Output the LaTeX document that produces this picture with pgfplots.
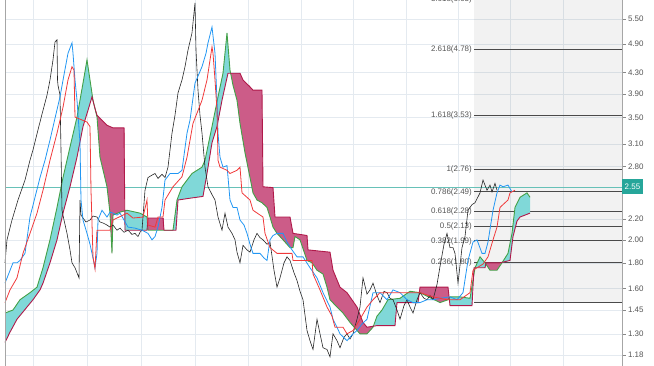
\documentclass[border=0pt]{standalone}
\usepackage{fontspec}
\setmainfont{Liberation Sans}
\usepackage{pgfplots}
\usepackage{pgfplotstable}
\pgfplotsset{compat=1.18}
\definecolor{cgreen}{HTML}{43A047}
\definecolor{cB}{HTML}{B0194A}
\definecolor{cblue}{HTML}{2196F3}
\definecolor{cred}{HTML}{F0393A}
\definecolor{cteal}{HTML}{80D8D8}
\definecolor{cpink}{HTML}{CC5C88}
\definecolor{gridc}{HTML}{E4EAF0}
\definecolor{pricec}{HTML}{26A69A}
\definecolor{fibc}{HTML}{4A4A4A}
\definecolor{txtc}{HTML}{555555}

\pgfplotstableread[row sep=\\]{
x y\\
5 1.43\\ 13 1.45\\ 20 1.52\\ 30 1.57\\ 37 1.61\\ 43 1.76\\ 50 2.00\\ 57 2.32\\ 63 2.66\\ 70 3.06\\ 77 3.51\\ 83 4.10\\ 87 4.56\\ 90 4.16\\ 93 3.79\\ 95 3.65\\ 97 3.51\\ 100 2.92\\ 107 2.55\\ 110 2.26\\ 112 1.88\\ 113 2.24\\ 120 2.27\\ 127 2.29\\ 140 2.26\\ 147 2.22\\ 148 2.09\\ 163 2.09\\ 173 2.09\\ 177 2.40\\ 182 2.55\\ 192 2.71\\ 202 2.79\\ 205 2.88\\ 212 3.36\\ 218 3.85\\ 223 4.29\\ 227 5.16\\ 230 4.35\\ 233 4.06\\ 237 3.79\\ 240 3.41\\ 245 2.98\\ 250 2.66\\ 253 2.48\\ 257 2.40\\ 262 2.37\\ 267 2.32\\ 270 2.22\\ 273 2.12\\ 277 2.06\\ 283 2.00\\ 290 1.93\\ 293 1.93\\ 295 2.03\\ 300 2.00\\ 307 1.82\\ 312 1.80\\ 317 1.74\\ 323 1.71\\ 327 1.61\\ 330 1.52\\ 337 1.47\\ 343 1.43\\ 350 1.37\\ 360 1.30\\ 367 1.30\\ 373 1.34\\ 377 1.41\\ 382 1.45\\ 388 1.52\\ 400 1.53\\ 410 1.58\\ 420 1.57\\ 440 1.50\\ 448 1.52\\ 450 1.54\\ 460 1.54\\ 470 1.53\\ 475 1.76\\ 480 1.85\\ 485 1.80\\ 490 1.74\\ 497 1.74\\ 502 1.80\\ 508 1.88\\ 512 2.06\\ 515 2.32\\ 520 2.43\\ 527 2.48\\ 530 2.43\\
}\tabA

\pgfplotstableread[row sep=\\]{
x y\\
5 1.25\\ 10 1.31\\ 17 1.39\\ 27 1.47\\ 33 1.52\\ 40 1.59\\ 43 1.64\\ 50 1.80\\ 57 2.00\\ 63 2.26\\ 70 2.55\\ 77 2.92\\ 83 3.36\\ 88 3.62\\ 92 3.85\\ 95 3.65\\ 97 3.54\\ 100 3.49\\ 107 3.38\\ 113 3.34\\ 124 3.34\\ 125 2.09\\ 147 2.09\\ 148 2.21\\ 163 2.21\\ 164 2.09\\ 176 2.09\\ 178 2.40\\ 190 2.42\\ 203 2.44\\ 207 2.71\\ 212 3.12\\ 217 3.36\\ 222 3.79\\ 228 4.29\\ 240 4.29\\ 243 4.16\\ 250 4.03\\ 253 3.97\\ 262 3.97\\ 263 2.55\\ 273 2.54\\ 275 2.22\\ 290 2.22\\ 293 2.06\\ 307 2.04\\ 308 1.91\\ 330 1.89\\ 333 1.74\\ 340 1.61\\ 347 1.57\\ 357 1.47\\ 363 1.37\\ 367 1.34\\ 377 1.35\\ 395 1.35\\ 397 1.50\\ 418 1.50\\ 420 1.61\\ 448 1.61\\ 450 1.48\\ 472 1.48\\ 474 1.76\\ 485 1.76\\ 486 1.80\\ 500 1.80\\ 510 1.82\\ 513 2.03\\ 517 2.18\\ 520 2.22\\ 530 2.26\\
}\tabB

\begin{document}
\begin{tikzpicture}
\begin{axis}[
  at={(5bp,0bp)}, anchor=south west,
  scale only axis, width=617bp, height=366bp,
  xmin=5, xmax=622, ymin=1.122, ymax=6.0,
  ymode=log,
  clip=false,
  axis line style={draw=none},
  xtick={33,87,141,195,248,301,353,406,458,510,563},
  xticklabels={},
  x tick style={draw=none},
  ytick={1.18,1.30,1.45,1.60,1.80,2.00,2.20,2.80,3.10,3.50,3.90,4.30,4.90,5.50},
  yticklabels={1.18,1.30,1.45,1.60,1.80,2.00,2.20,2.80,3.10,3.50,3.90,4.30,4.90,5.50},
  ytick pos=right,
  yticklabel pos=right,
  tick align=outside,
  major tick length=3.5bp,
  y tick style={draw=txtc!70, line width=0.5pt},
  yticklabel style={font=\fontsize{8}{9}\selectfont, text=txtc, xshift=-1bp},
  grid=major,
  major grid style={draw=gridc, line width=0.5pt},
  minor ytick={},
]
% fib shaded zone
\fill[black, opacity=0.05] (axis cs:474,1.50) rectangle (axis cs:622,6.0);
% fib lines
\addplot[fibc, line width=1pt] coordinates {(474,6.03) (622,6.03)};
\addplot[fibc, line width=1pt] coordinates {(474,4.78) (622,4.78)};
\addplot[fibc, line width=1pt] coordinates {(474,3.53) (622,3.53)};
\addplot[fibc, line width=1pt] coordinates {(474,2.76) (622,2.76)};
\addplot[fibc, line width=1pt] coordinates {(474,2.49) (622,2.49)};
\addplot[fibc, line width=1pt] coordinates {(474,2.28) (622,2.28)};
\addplot[fibc, line width=1pt] coordinates {(474,2.13) (622,2.13)};
\addplot[fibc, line width=1pt] coordinates {(474,1.99) (622,1.99)};
\addplot[fibc, line width=1pt] coordinates {(474,1.80) (622,1.80)};
\addplot[fibc, line width=1pt] coordinates {(474,1.50) (622,1.50)};
\begin{scope}[every node/.style={anchor=east, font=\fontsize{8}{9}\selectfont, text=txtc, inner sep=1bp}]
\node at (axis cs:473,6.01) {3.618(6.03)};
\node at (axis cs:473,4.78) {2.618(4.78)};
\node at (axis cs:473,3.53) {1.618(3.53)};
\node at (axis cs:473,2.76) {1(2.76)};
\node at (axis cs:473,2.49) {0.786(2.49)};
\node at (axis cs:473,2.28) {0.618(2.28)};
\node at (axis cs:473,2.13) {0.5(2.13)};
\node at (axis cs:473,1.99) {0.382(1.99)};
\node at (axis cs:473,1.80) {0.236(1.80)};
\end{scope}
% current price line
\addplot[pricec!70, line width=0.4pt] coordinates {(5,2.55) (622,2.55)};
% cloud fills (span A vs span B)
\addplot[fill=cteal, draw=none] coordinates {(5,1.43) (13,1.45) (20,1.52) (30,1.57) (37,1.61) (43,1.76) (50,2.00) (57,2.32) (63,2.66) (70,3.06) (77,3.51) (83,4.10) (87,4.56) (90,4.16) (93,3.79) (95,3.65) (92,3.85) (88,3.62) (83,3.36) (77,2.92) (70,2.55) (63,2.26) (57,2.00) (50,1.80) (43,1.64) (40,1.59) (33,1.52) (27,1.47) (17,1.39) (10,1.31) (5,1.25)} -- cycle;
\addplot[fill=cpink, draw=none] coordinates {(95,3.65) (97,3.51) (100,2.92) (107,2.55) (110,2.26) (112,1.88) (113,2.24) (120,2.27) (124.5,2.28) (124.5,3.34) (113,3.34) (107,3.38) (100,3.49) (97,3.54)} -- cycle;
\addplot[fill=cteal, draw=none] coordinates {(124.5,2.28) (127,2.29) (140,2.26) (147.5,2.22) (147.5,2.09) (124.5,2.09)} -- cycle;
\addplot[fill=cpink, draw=none] coordinates {(147.5,2.21) (163.5,2.21) (163.5,2.09) (147.5,2.09)} -- cycle;
\addplot[fill=cteal, draw=none] coordinates {(164,2.09) (173,2.09) (177,2.40) (182,2.55) (192,2.71) (202,2.79) (205,2.88) (212,3.36) (218,3.85) (223,4.29) (227,5.16) (230,4.35) (230.6,4.29) (228,4.29) (222,3.79) (217,3.36) (212,3.12) (207,2.71) (203,2.44) (190,2.42) (178,2.40) (176,2.09)} -- cycle;
\addplot[fill=cpink, draw=none] coordinates {(230.6,4.29) (240,4.29) (243,4.16) (250,4.03) (253,3.97) (262,3.97) (263,2.55) (273,2.54) (275,2.22) (290,2.22) (293,2.06) (307,2.04) (308,1.91) (330,1.89) (333,1.74) (340,1.61) (347,1.57) (357,1.47) (363,1.37) (367,1.34) (374,1.35) (373,1.34) (367,1.30) (360,1.30) (350,1.37) (343,1.43) (337,1.47) (330,1.52) (327,1.61) (323,1.71) (317,1.74) (312,1.80) (307,1.82) (300,2.00) (295,2.03) (293,1.93) (290,1.93) (283,2.00) (277,2.06) (273,2.12) (270,2.22) (267,2.32) (262,2.37) (257,2.40) (253,2.48) (250,2.66) (245,2.98) (240,3.41) (237,3.79) (233,4.06)} -- cycle;
\addplot[fill=cteal, draw=none] coordinates {(374,1.35) (377,1.41) (382,1.45) (388,1.52) (400,1.53) (410,1.58) (419,1.57) (419,1.555) (418,1.50) (397,1.50) (395,1.35)} -- cycle;
\addplot[fill=cpink, draw=none] coordinates {(419,1.57) (420,1.61) (448,1.61) (449.2,1.53) (448,1.52) (440,1.50) (420,1.57)} -- cycle;
\addplot[fill=cteal, draw=none] coordinates {(449.2,1.53) (450,1.54) (460,1.54) (470,1.53) (475,1.76) (480,1.85) (485,1.80) (485.8,1.79) (485,1.76) (474,1.76) (472,1.48) (450,1.48)} -- cycle;
\addplot[fill=cpink, draw=none] coordinates {(485.8,1.80) (500,1.80) (501.7,1.80) (497,1.74) (490,1.74) (485.8,1.79)} -- cycle;
\addplot[fill=cteal, draw=none] coordinates {(501.7,1.80) (508,1.88) (512,2.06) (515,2.32) (520,2.43) (527,2.48) (530,2.43) (530,2.26) (520,2.22) (517,2.18) (513,2.03) (510,1.82)} -- cycle;
\addplot[cgreen, line width=0.9pt] table {\tabA};
\addplot[cB, line width=0.9pt] table {\tabB};
% lagging / price (black)
\addplot[black!85, line width=0.6pt] coordinates {
(5,1.80) (7,2.00) (12,2.19) (18,2.40) (25,2.63) (30,2.88) (33,3.02) (38,3.31) (43,3.62) (47,3.88) (50,4.16) (53,4.56) (55,4.95) (57,5.00) (57.5,4.16) (58,4.06) (60,3.88) (61,3.02) (62,2.29) (64,2.19) (67,2.06) (70,1.91) (72,1.80) (75,1.76) (79,1.68) (80,2.40) (81,2.24) (83,2.21) (86,2.17) (90,2.19) (93,2.23) (97,2.22) (100,2.17) (103,2.16) (107,2.14) (110,2.12) (113,2.14) (117,2.09) (120,2.11) (124,2.07) (128,2.09) (132,2.05) (135,2.06) (138,2.03) (140,2.07) (142,2.09) (145,2.51) (148,2.66) (152,2.69) (155,2.71) (158,2.65) (162,2.70) (165,2.66) (168,2.79) (172,3.26) (175,3.54) (178,3.92) (182,4.16) (185,4.42) (188,4.77) (192,5.16) (195,5.92) (196,4.77) (198,3.97) (200,3.54) (202,3.26) (205,2.79) (208,2.55) (212,2.46) (215,2.40) (218,2.22) (222,2.09) (225,2.26) (228,2.12) (232,2.06) (235,2.00) (237,1.89) (240,1.80) (243,1.95) (247,1.91) (250,1.89) (254,2.00) (257,2.06) (260,2.02) (263,2.00) (267,1.96) (270,1.98) (274,1.74) (277,1.61) (280,1.68) (284,1.80) (287,1.85) (290,1.82) (294,1.72) (297,1.66) (300,1.58) (303,1.52) (307,1.32) (310,1.26) (313,1.21) (317,1.39) (320,1.30) (323,1.22) (327,1.21) (330,1.17) (333,1.30) (337,1.26) (340,1.22) (344,1.28) (347,1.30) (350,1.27) (353,1.30) (357,1.39) (360,1.47) (363,1.68) (367,1.56) (370,1.59) (373,1.64) (377,1.55) (380,1.50) (384,1.58) (387,1.57) (390,1.53) (393,1.52) (397,1.45) (400,1.39) (404,1.48) (407,1.52) (410,1.47) (413,1.43) (417,1.52) (420,1.57) (424,1.53) (427,1.52) (430,1.55) (433,1.52) (437,1.63) (440,1.77) (444,1.96) (447,2.06) (450,1.93) (453,1.93) (455,1.88) (458,1.64) (462,1.93) (465,2.03) (468,2.29) (472,2.35) (475,2.37) (480,2.48) (483,2.63) (487,2.51) (490,2.57) (492,2.49) (495,2.59) (497,2.51)
};
% conversion line (blue)
\addplot[cblue, line width=0.8pt] coordinates {
(5,1.64) (13,1.80) (17,1.80) (20,1.82) (25,1.88) (30,2.22) (35,2.43) (40,2.66) (45,2.88) (50,3.16) (55,3.49) (60,3.85) (64,4.26) (68,4.70) (72,4.93) (73,4.70) (75,4.16) (77,3.79) (80,3.12) (81,2.40) (83,2.19) (87,2.06) (90,1.96) (92,1.88) (95,1.76) (97,1.88) (98,2.19) (102,2.29) (107,2.22) (110,2.27) (113,2.26) (117,2.24) (120,2.26) (124,2.19) (128,2.12) (135,2.11) (142,2.09) (148,2.06) (152,2.00) (155,2.03) (158,2.12) (162,2.32) (165,2.63) (170,2.71) (178,2.71) (182,2.75) (187,3.26) (190,3.46) (195,4.10) (202,4.42) (206,4.70) (208,4.93) (212,5.30) (215,4.70) (217,3.79) (218,3.26) (220,2.92) (223,2.79) (227,2.81) (230,2.40) (233,2.32) (237,2.32) (240,2.19) (244,2.14) (247,2.06) (250,1.96) (253,1.88) (260,1.88) (264,1.84) (267,1.82) (270,2.00) (273,2.04) (277,2.06) (283,2.06) (287,1.98) (292,1.91) (297,1.85) (303,1.85) (310,1.76) (317,1.68) (323,1.57) (330,1.47) (333,1.39) (337,1.34) (340,1.30) (347,1.26) (353,1.30) (357,1.32) (362,1.36) (367,1.39) (373,1.57) (380,1.57) (387,1.52) (393,1.59) (400,1.57) (407,1.52) (413,1.50) (420,1.50) (427,1.52) (433,1.52) (440,1.53) (450,1.54) (457,1.52) (463,1.57) (468,1.82) (473,1.98) (477,2.00) (482,1.88) (485,1.88) (488,1.98) (493,2.29) (497,2.48) (500,2.57) (503,2.55) (508,2.57) (512,2.49)
};
% base line (red)
\addplot[cred, line width=0.8pt] coordinates {
(5,1.50) (10,1.59) (17,1.68) (23,1.88) (30,2.06) (37,2.26) (43,2.51) (50,2.88) (57,3.26) (63,3.67) (68,4.16) (72,4.42) (74,4.35) (75,3.51) (87,3.43) (90,3.36) (91,2.51) (93,1.85) (95,1.75) (97,2.09) (110,2.09) (113,2.19) (127,2.26) (133,2.21) (143,2.22) (147,2.40) (148,2.14) (155,2.12) (158,2.22) (163,2.22) (165,2.40) (173,2.55) (182,2.67) (187,2.92) (193,3.41) (202,3.79) (207,4.16) (212,4.84) (213,4.70) (215,4.16) (217,3.62) (218,2.88) (220,2.79) (227,2.75) (230,2.71) (237,2.75) (240,2.79) (242,2.48) (250,2.40) (253,2.29) (263,2.22) (265,2.06) (270,1.93) (277,1.88) (292,1.88) (293,1.82) (312,1.82) (313,1.71) (320,1.59) (327,1.47) (332,1.41) (335,1.34) (343,1.34) (347,1.30) (353,1.32) (360,1.39) (367,1.47) (373,1.52) (380,1.57) (397,1.57) (407,1.57) (420,1.57) (433,1.54) (447,1.52) (460,1.52) (470,1.57) (473,1.74) (483,1.79) (488,1.85) (493,2.00) (497,2.12) (500,2.32) (505,2.37) (508,2.40) (510,2.48) (515,2.51)
};
% left axis line and right axis line
\draw[gray!70, line width=0.6pt] (rel axis cs:0,0) -- (rel axis cs:0,1);
\draw[gray!70, line width=0.6pt] (rel axis cs:1,0) -- (rel axis cs:1,1);
% price label
\node[anchor=west, fill=pricec, text=white, font=\fontsize{8}{9}\selectfont, inner xsep=2.5bp, inner ysep=2.5bp, minimum height=15bp] at (axis cs:622,2.55) {2.55};
\end{axis}
\pgfresetboundingbox
\useasboundingbox (0,0) rectangle (654bp,366bp);
\end{tikzpicture}
\end{document}
